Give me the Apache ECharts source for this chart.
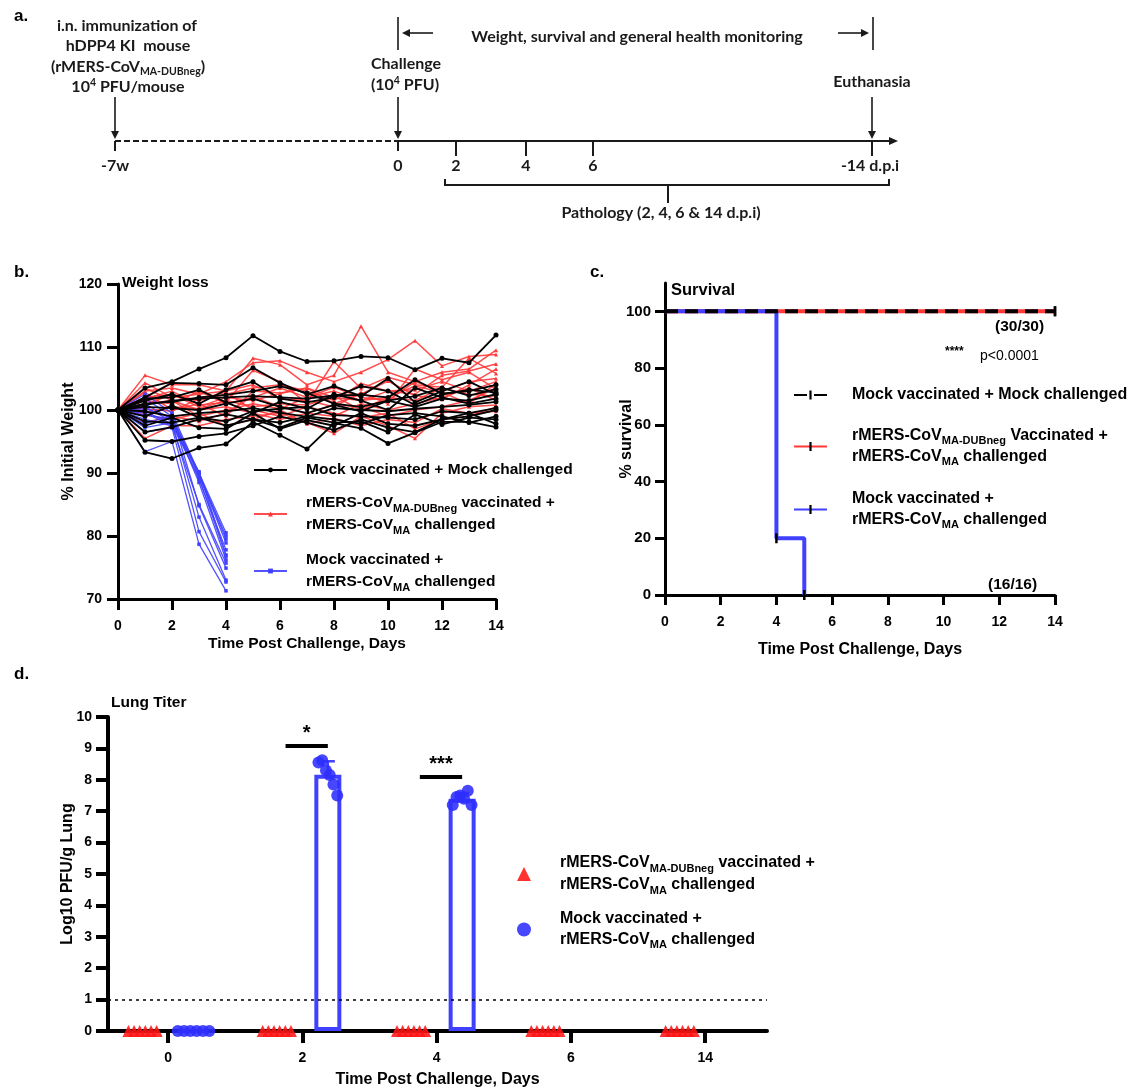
<!DOCTYPE html>
<html><head><meta charset="utf-8">
<script src="https://cdn.jsdelivr.net/npm/echarts@6/dist/echarts.min.js"></script>
<style>html,body{margin:0;padding:0;background:#fff}#c{width:1139px;height:1089px}</style>
</head><body><div id="c"></div>
<script>
// ================= DATA =================
const days = [0,1,2,3,4,5,6,7,8,9,10,11,12,13,14];
// Panel b: % initial weight per mouse
const weightMockMock = [
 [100,103.5,104.5,106.5,108.3,111.8,109.3,107.7,107.8,108.5,108.3,106.4,108.2,107.5,111.9],
 [100,93.3,92.3,94.0,94.6,98.1,96.0,93.8,97.9,97.1,94.7,96.4,98.1,98.1,97.3],
 [100,95.2,95.0,95.8,96.3,97.5,99.0,98.0,96.8,98.5,97.2,96.5,98.5,99.0,100.0],
 [100,102.0,104.3,104.2,104.0,106.7,104.3,102.5,103.8,102.2,105.0,101.2,103.0,104.5,102.5],
 [100,101.5,102.5,101.0,103.2,104.5,101.8,101.2,102.0,103.8,103.0,100.8,102.5,103.2,102.8],
 [100,101.0,101.3,102.0,102.4,103.0,103.8,102.7,101.0,100.5,101.5,102.2,103.5,102.3,103.3],
 [100,100.5,100.3,100.0,101.0,101.8,100.5,99.5,100.8,99.8,101.5,100.5,101.8,101.5,102.5],
 [100,99.8,99.0,99.5,99.8,100.3,99.6,98.9,100.3,100.0,99.8,100.2,100.5,100.8,101.3],
 [100,99.0,100.7,98.8,98.2,99.8,100.2,100.5,99.2,99.0,98.8,98.5,99.8,99.5,100.3],
 [100,98.2,98.0,98.8,97.5,98.5,98.0,99.0,98.5,97.8,99.2,99.5,99.0,98.0,99.0],
 [100,97.5,98.8,97.2,97.0,99.5,97.0,98.4,97.5,99.5,97.8,97.5,98.5,99.5,97.8],
 [100,101.8,102.0,103.2,101.2,99.5,101.3,100.2,102.5,101.5,100.0,103.5,102.0,101.0,101.8],
 [100,96.5,97.3,98.5,99.3,98.5,97.2,98.8,98.0,98.2,96.5,99.3,97.7,98.8,98.5],
 [100,100.8,101.5,101.8,102.0,102.2,102.0,101.8,102.3,102.4,102.0,104.8,102.6,103.0,104.0]
];
const weightVacMers = [
 [100,105.5,104,104,103,108.2,107.2,104,105.5,113.3,106,104.5,106,106.5,109.5],
 [100,103,103.5,102.5,104.5,107.5,107.8,106,104.5,106,108,111,107,108.5,108.8],
 [100,102,102.5,101.5,102.5,103.5,104,103,101.5,104.2,103,102.5,105.5,106.2,107.3],
 [100,101.5,101,103,101,102,103.5,102,103.6,102,101.5,104.5,103,104.5,105],
 [100,100.8,102.5,100.5,102,101.5,102.6,103.5,102,101.5,103,103.2,104.5,103,104.5],
 [100,104.3,102,102.5,103,104,101.8,101.5,100.5,102.8,101,106.5,104.8,106,103.3],
 [100,99.5,100.5,100.2,101.5,100.5,101,100.8,102.2,100,102,101.5,103.5,102.5,102.2],
 [100,98,99,98.2,99.5,102.2,100.5,99.5,99,101,100,101,102,103.5,101.5],
 [100,95.5,97.5,97.5,98.5,99,99.5,98,96.3,99,97.5,95.5,99.5,100.5,100.8],
 [100,101,101.5,100,100.5,99.5,98.5,99.5,100.8,100.5,99,100,100.5,101.5,103.5],
 [100,102.8,100,101,99,103,102.7,103.5,101,102.5,104.6,102.3,101.7,104,106.5],
 [100,99.2,98.5,99.5,97.5,98.5,100,97.8,98.7,97.5,98.5,98,100.2,99.5,99.8],
 [100,103.5,101.5,99,100,101,100.2,102,103,101.5,102,103.8,102.8,101,104.2],
 [100,100.2,99.8,101.8,102.8,100,99,100.5,99.5,98.8,99.5,97,98.5,99,100.5],
 [100,101.8,103,100.8,101.2,106.3,104.5,101,107.7,103.4,105.2,104,103.6,108.2,105.8]
];
const weightMockMers = [
 [100,102.5,99.5,90.0,80.5],
 [100,101.8,99.0,89.5,80.0],
 [100,101.0,98.5,89.8,78.9],
 [100,100.5,98.2,89.0,77.8],
 [100,99.8,97.8,90.2,77.0],
 [100,99.2,98.6,88.5,76.2],
 [100,98.5,97.5,85.0,75.7],
 [100,97.8,99.2,84.8,74.9],
 [100,97.2,98.0,83.0,73.0],
 [100,96.5,97.2,80.7,72.7],
 [100,93.4,95.0,78.7,71.3],
 [100,100.2,98.8,90.0,79.5],
 [100,99.5,97.6,89.3,76.8]
];
// Panel c: Kaplan-Meier survival (%)
const survMockMock = [[0,100],[14,100]];
const survVacMers  = [[0,100],[14,100]];
const survMockMers = [[0,100],[4,100],[4,20],[5,20],[5,0]];
const censorMockMock = [[14,100]];
const censorVacMers  = [[14,100]];
const censorMockMers = [[4,20],[5,0]];
// Panel d: lung titer (log10 PFU/g)
const lungCategories = ['0','2','4','6','14'];
const lungVacMers = [[0,0,0,0,0,0],[0,0,0,0,0,0],[0,0,0,0,0,0],[0,0,0,0,0,0],[0,0,0,0,0,0]];
const lungMockMers = [[0,0,0,0,0,0],[8.55,8.62,8.3,8.15,7.85,7.5],[7.2,7.45,7.5,7.4,7.65,7.2],[],[]];
const lungLOD = 1;
const lungSig = [{cat:1, label:'*', y:9.1},{cat:2, label:'***', y:8.1}];
// Panel a: timeline labels
const timelineTicks = ['-7w','0','2','4','6','-14 d.p.i'];

// ================= STYLE / LAYOUT =================
const F = '"Liberation Sans", Arial, sans-serif';
const FA = 'Lato, "Open Sans", sans-serif';
const RED = '#ff3838', BLUE = '#4040ff';
const TICK = 'path://M-4,0L-4,0ZM-1,0L1,0L1,8L-1,8ZM4,8L4,8Z';

function RT(fs,lh){ return {
  t:{fontFamily:F,fontWeight:'bold',fontSize:fs,lineHeight:lh,color:'#000'},
  s:{fontFamily:F,fontWeight:'bold',fontSize:Math.round(fs*0.68),lineHeight:Math.round(lh*0.55),verticalAlign:'bottom',color:'#000'}
};}
const LEG = {
  bMock:'{t|Mock vaccinated + Mock challenged}',
  bVac:'{t|rMERS-CoV}{s|MA-DUBneg}{t| vaccinated +}\n{t|rMERS-CoV}{s|MA}{t| challenged}',
  bMockMers:'{t|Mock vaccinated +}\n{t|rMERS-CoV}{s|MA}{t| challenged}',
  cMock:'{t|Mock vaccinated + Mock challenged}',
  cVac:'{t|rMERS-CoV}{s|MA-DUBneg}{t| Vaccinated +}\n{t|rMERS-CoV}{s|MA}{t| challenged}',
  cMockMers:'{t|Mock vaccinated +}\n{t|rMERS-CoV}{s|MA}{t| challenged}',
  dVac:'{t|rMERS-CoV}{s|MA-DUBneg}{t| vaccinated +}\n{t|rMERS-CoV}{s|MA}{t| challenged}',
  dMockMers:'{t|Mock vaccinated +}\n{t|rMERS-CoV}{s|MA}{t| challenged}'
};

function ax(o){
  const a = {
    type:'value', gridIndex:o.g, min:o.min, max:o.max,
    name:o.name, nameLocation:'middle', nameGap:o.nameGap, nameRotate:o.rot||0, nameMoveOverlap:false,
    nameTextStyle:{fontFamily:F,fontWeight:'bold',fontSize:o.nfs||16,color:'#000'},
    axisLine:{show:true,onZero:false,lineStyle:{color:'#000',width:o.lw}},
    axisTick:{show:true,inside:false,length:o.tl,lineStyle:{color:'#000',width:o.lw}},
    axisLabel:{show:true,margin:o.m,fontFamily:F,fontWeight:'bold',fontSize:o.fs||14,color:'#000'},
    splitLine:{show:false}
  };
  if (o.interval!=null) a.interval = o.interval;
  if (o.cv){ a.axisTick.customValues = o.cv; a.axisLabel.customValues = o.cv; }
  if (o.fmt) a.axisLabel.formatter = o.fmt;
  return a;
}

const series = [];
// ---- panel b
weightVacMers.forEach(v=>series.push({type:'line',name:'bVac',xAxisIndex:0,yAxisIndex:0,
  data:v.map((y,i)=>[days[i],y]),symbol:'triangle',symbolSize:4,showAllSymbol:true,
  lineStyle:{color:RED,width:1.5,opacity:0.9},itemStyle:{color:RED},z:2,silent:true}));
weightMockMers.forEach(v=>series.push({type:'line',name:'bMockMers',xAxisIndex:0,yAxisIndex:0,
  data:v.map((y,i)=>[days[i],y]),symbol:'rect',symbolSize:3.5,showAllSymbol:true,
  lineStyle:{color:BLUE,width:1.3,opacity:0.9},itemStyle:{color:BLUE},z:3,silent:true}));
weightMockMock.forEach(v=>series.push({type:'line',name:'bMock',xAxisIndex:0,yAxisIndex:0,
  data:v.map((y,i)=>[days[i],y]),symbol:'circle',symbolSize:5,showAllSymbol:true,
  lineStyle:{color:'#000',width:1.8},itemStyle:{color:'#000'},z:4,silent:true}));
// ---- panel c
function surv(name,data,censor,color,dash,z){
  return {type:'line',name,xAxisIndex:1,yAxisIndex:1,z,silent:true,
    data:data.map(p=>({value:p,symbol:censor.some(c=>c[0]===p[0]&&c[1]===p[1])?TICK:'none'})),
    symbol:TICK,symbolSize:[10,10],showAllSymbol:true,itemStyle:{color:'#000'},
    lineStyle:{color,width:4,type:dash?[13,7]:'solid',cap:'butt'}};
}
series.push(surv('cVac',survVacMers,censorVacMers,RED,false,2));
series.push(surv('cMockMers',survMockMers,censorMockMers,BLUE,false,3));
series.push(surv('cMock',survMockMock,censorMockMock,'#000',true,4));
// ---- panel d
const GROUP_OFF = 0.19;
const mean = a=>a.reduce((s,v)=>s+v,0)/a.length;
const sd = a=>{const m=mean(a);return Math.sqrt(a.reduce((s,v)=>s+(v-m)*(v-m),0)/(a.length-1));};
const barData = [], errData = [];
lungMockMers.forEach((vals,i)=>{ if(vals.length){ const m=mean(vals); barData.push([i+GROUP_OFF,m]); if(m>0) errData.push([i+GROUP_OFF,m,m+sd(vals)]); } });
series.push({type:'bar',name:'dBar',xAxisIndex:2,yAxisIndex:2,data:barData,barWidth:27,silent:true,z:2,
  itemStyle:{color:'rgba(255,255,255,0)',borderColor:BLUE,borderWidth:4}});
series.push({type:'custom',name:'dErr',xAxisIndex:2,yAxisIndex:2,data:errData,silent:true,z:3,
  renderItem:(p,api)=>{const a=api.coord([api.value(0),api.value(1)]),b=api.coord([api.value(0),api.value(2)]);
    return {type:'group',children:[
      {type:'line',shape:{x1:a[0],y1:a[1],x2:b[0],y2:b[1]},style:{stroke:BLUE,lineWidth:2.5}},
      {type:'line',shape:{x1:b[0]-7,y1:b[1],x2:b[0]+7,y2:b[1]},style:{stroke:BLUE,lineWidth:2.5}}]};}});
const spread = vals=>vals.every(v=>v===0)?0.047:0.028;
const redPts=[], bluePts=[];
lungVacMers.forEach((vals,i)=>vals.forEach((v,j)=>redPts.push([i-GROUP_OFF+(j-(vals.length-1)/2)*0.042,v])));
lungMockMers.forEach((vals,i)=>vals.forEach((v,j)=>bluePts.push([i+GROUP_OFF+(j-(vals.length-1)/2)*spread(vals),v])));
series.push({type:'scatter',name:'dVac',xAxisIndex:2,yAxisIndex:2,data:redPts,symbol:'triangle',symbolSize:12,silent:true,z:5,
  itemStyle:{color:'rgba(255,20,20,0.88)',opacity:1},
  markLine:{silent:true,symbol:'none',animation:false,data:[
    {yAxis:lungLOD,lineStyle:{type:[3,4],width:1.5,color:'#000'},label:{show:false}},
    ...lungSig.map(s=>[{coord:[s.cat-0.125,s.y],lineStyle:{type:'solid',width:4,color:'#000'},
        label:{show:true,formatter:s.label,position:'middle',distance:2,fontFamily:F,fontWeight:'bold',fontSize:20,color:'#000'}},
      {coord:[s.cat+GROUP_OFF,s.y]}])
  ]}});
series.push({type:'scatter',name:'dMockMers',xAxisIndex:2,yAxisIndex:2,data:bluePts,symbol:'circle',symbolSize:12,silent:true,z:6,
  itemStyle:{color:'rgba(45,45,255,0.88)',opacity:1}});

// ---- graphics (panel a diagram + annotations)
const G = [];
const C = '#1a1a1a';
const L = (x1,y1,x2,y2,w,dash)=>G.push({type:'line',silent:true,shape:{x1,y1,x2,y2},style:{stroke:C,lineWidth:w||2,lineDash:dash||null}});
const P = pts=>G.push({type:'polygon',silent:true,shape:{points:pts},style:{fill:C}});
const RA = {
  t:{fontFamily:FA,fontWeight:'bold',fontSize:16,lineHeight:20,fill:C},
  s:{fontFamily:FA,fontWeight:'bold',fontSize:10.5,lineHeight:11,verticalAlign:'bottom',fill:C},
  p:{fontFamily:FA,fontWeight:'bold',fontSize:10.5,lineHeight:11,verticalAlign:'top',fill:C}
};
const T = (text,x,y,o)=>G.push({type:'text',silent:true,style:Object.assign({text,x,y,align:'center',verticalAlign:'middle',rich:RA,fill:C},o||{})});
const TY = 141;
L(115,TY,398,TY,2,[6,3]);
L(398,TY,890,TY,2); P([[898,TY],[889,TY-4],[889,TY+4]]);
const TL_X = [115,398,456,526,593,872];
TL_X.forEach((x,i)=>{ L(x,TY,x,i<2?151:156,2); T('{t|'+timelineTicks[i]+'}',x+(i===5?-2:0),166); });
[115,398,872].forEach(x=>{ L(x,97,x,132,1.6); P([[x-4,131],[x+4,131],[x,139]]); });
L(398,17,398,50,1.6); L(408,33,433,33,1.6); P([[402,33],[410,29],[410,37]]);
L(873,17,873,50,1.6); L(838,33,863,33,1.6); P([[869,33],[861,29],[861,37]]);
T('{t|Weight, survival and general health monitoring}',637,37);
T('{t|i.n. immunization of}',127,26);
T('{t|hDPP4 KI  mouse}',128,46);
T('{t|(rMERS-CoV}{s|MA-DUBneg}{t|)}',128,67);
T('{t|10}{p|4}{t| PFU/mouse}',128,87);
T('{t|Challenge}',406,64);
T('{t|(10}{p|4}{t| PFU)}',405,85);
T('{t|Euthanasia}',872,82);
G.push({type:'polyline',silent:true,shape:{points:[[445,179],[445,185],[889,185],[889,179]]},style:{stroke:C,lineWidth:2,fill:null}});
L(668,185,668,203,2);
T('{t|Pathology (2, 4, 6 & 14 d.p.i)}',661,213);
// panel letters & titles
const TB = (text,x,y,o)=>G.push({type:'text',silent:true,style:Object.assign({text,x,y,align:'left',verticalAlign:'middle',fontFamily:F,fontWeight:'bold',fontSize:15.5,fill:'#000'},o||{})});
TB('a.',14,16,{fontSize:17});
TB('b.',14,272,{fontSize:17});
TB('c.',590,272,{fontSize:17});
TB('d.',14,674,{fontSize:17});
TB('Weight loss',122,283);
TB('Survival',671,290,{fontSize:16.5});
TB('(30/30)',995,327);
TB('****',945,352,{fontSize:12});
TB('p<0.0001',980,356,{fontWeight:'normal',fontSize:14});
TB('(16/16)',988,585);
TB('Lung Titer',111,703);

function legend(name,left,top,iw,ih,pad,fs,lh){
  return {show:true,data:[name],orient:'vertical',left,top,itemWidth:iw,itemHeight:ih,itemGap:0,padding:0,
    selectedMode:false,formatter:n=>LEG[n],
    textStyle:{fontFamily:F,fontWeight:'bold',fontSize:fs,color:'#000',padding:[0,0,0,pad],rich:RT(fs,lh)}};
}

const option = {
  animation:false, backgroundColor:'#fff',
  textStyle:{fontFamily:F},
  grid:[
    {left:118,top:284,width:378,height:315,outerBoundsMode:'none'},
    {left:665,top:283,width:390,height:312,outerBoundsMode:'none'},
    {left:108,top:717,width:659,height:314,outerBoundsMode:'none'}
  ],
  xAxis:[
    ax({g:0,min:0,max:14,interval:2,name:'Time Post Challenge, Days',nameGap:37,nfs:15.5,lw:3,tl:11,m:20}),
    ax({g:1,min:0,max:14,interval:2,name:'Time Post Challenge, Days',nameGap:47,lw:3,tl:10,m:20}),
    ax({g:2,min:-0.447,max:4.46,cv:[0,1,2,3,4],fmt:v=>lungCategories[Math.round(v)],name:'Time Post Challenge, Days',nameGap:41,lw:4,tl:12,m:20})
  ],
  yAxis:[
    ax({g:0,min:70,max:120,interval:10,name:'% Initial Weight',nameGap:41,rot:90,lw:3,tl:11,m:16}),
    ax({g:1,min:0,max:110,cv:[0,20,40,60,80,100],name:'% survival',nameGap:30,rot:90,lw:3,tl:10,m:14,fs:15}),
    ax({g:2,min:0,max:10,interval:1,name:'Log10 PFU/g Lung',nameGap:32,rot:90,lw:4,tl:12,m:16})
  ],
  legend:[
    legend('bMock',253,462,33,6,14,15.5,22),
    legend('bVac',253,495,33,6,14,15.5,22),
    legend('bMockMers',253,552,33,6,14,15.5,22),
    legend('cMock',793,387,33,11,20,16,21),
    legend('cVac',793,428,33,11,20,16,21),
    legend('cMockMers',793,491,33,11,20,16,21),
    legend('dVac',517,855,14,14,24,16,22),
    legend('dMockMers',517,911,14,14,24,16,21)
  ],
  graphic:G,
  series
};
const chart = echarts.init(document.getElementById('c'),null,{renderer:'canvas'});
chart.setOption(option);
</script></body></html>
